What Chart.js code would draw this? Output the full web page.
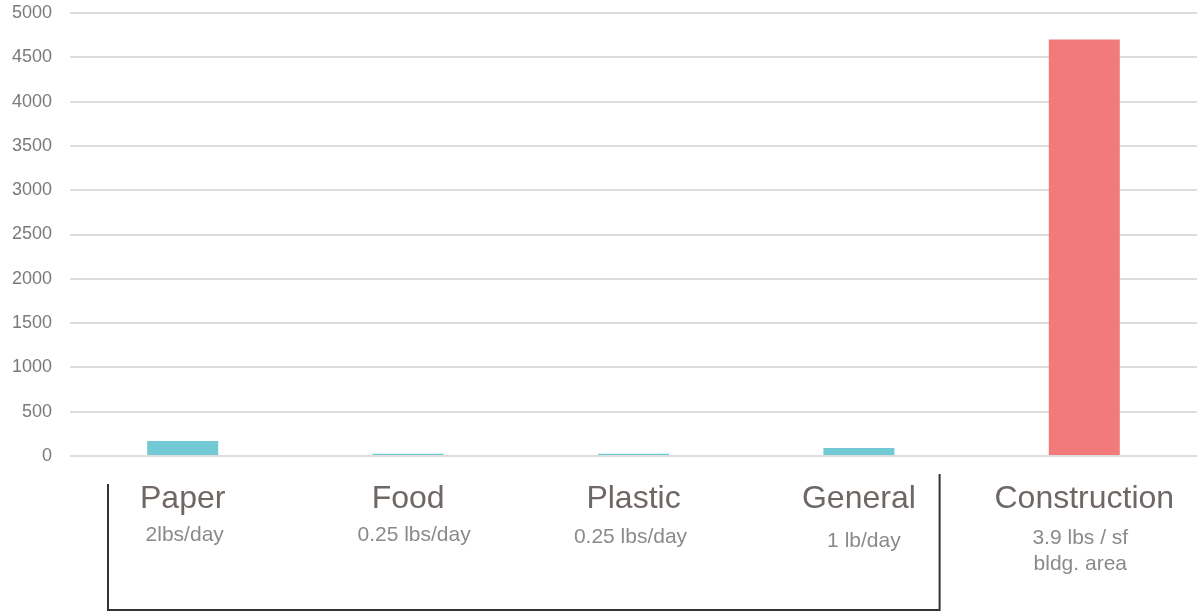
<!DOCTYPE html>
<html><head><meta charset="utf-8">
<script src="https://cdn.jsdelivr.net/npm/chart.js@4/dist/chart.umd.min.js"></script>
<style>html,body{margin:0;padding:0;background:#fff}#wrap{width:1197px;height:613px}</style>
</head><body><div id="wrap"><canvas id="c"></canvas></div>
<script>
const categories = ["Paper","Food","Plastic","General","Construction"];
const subLabels = [["2lbs/day"],["0.25 lbs/day"],["0.25 lbs/day"],["1 lb/day"],["3.9 lbs / sf","bldg. area"]];
const values = [170, 25, 25, 90, 4700];
const barColors = ["#72CBD4","#72CBD4","#72CBD4","#72CBD4","#F27A7A"];
const yTicks = [0,500,1000,1500,2000,2500,3000,3500,4000,4500,5000];
const bracketFrom = 0, bracketTo = 3;

const extras = {
  id:'extras',
  afterDraw(chart){
    const ctx = chart.ctx, x = chart.scales.x;
    ctx.save();
    ctx.fillStyle = '#8a8a8a';
    ctx.font = '21px "Liberation Sans", Arial, sans-serif';
    ctx.textAlign = 'center'; ctx.textBaseline = 'middle';
    const ys = [535, 535, 537, 541, 538];
    const dx = [2, 6, -3, 5, -4];
    subLabels.forEach((lines,i)=>{
      const cx = x.getPixelForValue(i) + dx[i];
      lines.forEach((t,j)=>ctx.fillText(t, cx, ys[i] + j*26));
    });
    const half = (x.getPixelForValue(1)-x.getPixelForValue(0))/2;
    const lx = x.getPixelForValue(bracketFrom) - half + 38;
    const rx = x.getPixelForValue(bracketTo) + half - 32;
    ctx.strokeStyle = '#333'; ctx.lineWidth = 2;
    ctx.beginPath();
    ctx.moveTo(lx, 484); ctx.lineTo(lx, 610); ctx.lineTo(rx, 610); ctx.lineTo(rx, 474);
    ctx.stroke();
    ctx.restore();
  }
};

new Chart(document.getElementById('c'), {
  type:'bar',
  data:{labels:categories, datasets:[{data:values, backgroundColor:barColors, barPercentage:0.315, categoryPercentage:1}]},
  options:{
    responsive:true, maintainAspectRatio:false, animation:false,
    layout:{padding:{top:13,right:0,left:0,bottom:0}},
    plugins:{legend:{display:false},tooltip:{enabled:false}},
    scales:{
      x:{
        grid:{display:false}, border:{display:false},
        ticks:{color:'#6e6764', font:{size:32,family:'"Liberation Sans", Arial, sans-serif'}, padding:16},
        afterFit(s){ s.height = 157; s.paddingLeft = 0; s.paddingRight = 0; }
      },
      y:{
        min:0, max:5000,
        afterBuildTicks(s){ s.ticks = yTicks.map(v=>({value:v})); },
        afterFit(s){ s.width = 70; s.paddingTop = 0; s.paddingBottom = 0; },
        grid:{color:'#dddddd', lineWidth:2, drawTicks:false}, border:{display:false},
        ticks:{color:'#7a7a7a', font:{size:18,family:'"Liberation Sans", Arial, sans-serif'}, padding:18,
               callback:v=>String(v)}
      }
    }
  },
  plugins:[extras]
});
</script></body></html>
